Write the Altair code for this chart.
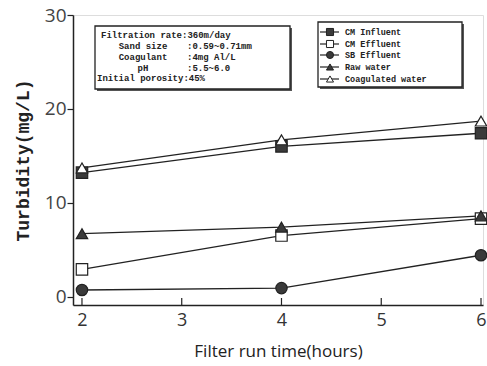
import altair as alt
import pandas as pd

hours = [2, 4, 6]
x_ticks = [2, 3, 4, 5, 6]
series_names = ["CM Influent", "CM Effluent", "SB Effluent", "Raw water", "Coagulated water"]
cm_influent = [13.2, 16.0, 17.4]
cm_effluent = [2.9, 6.5, 8.3]
sb_effluent = [0.7, 0.9, 4.4]
raw_water = [6.7, 7.4, 8.6]
coagulated = [13.7, 16.7, 18.7]
series_values = [cm_influent, cm_effluent, sb_effluent, raw_water, coagulated]
shapes = ["square", "square", "circle", "triangle-up", "triangle-up"]
fills = ["#3a3a3a", "white", "#3a3a3a", "#3a3a3a", "white"]

info_labels = ["Filtration rate:360m/day", "Sand size", "Coagulant", "pH", "Initial porosity:45%"]
info_values = ["", ":0.59~0.71mm", ":4mg Al/L", ":5.5~6.0", ""]

rows = []
for name, vals in zip(series_names, series_values):
    for h, v in zip(hours, vals):
        rows.append({"series": name, "hours": h, "turb": v})
df = pd.DataFrame(rows)
one = pd.DataFrame({"a": [0]})

INK = "#222"
xscale = alt.Scale(domain=[1.91, 6.02], nice=False, zero=False)
yscale = alt.Scale(domain=[-0.9, 30], nice=False, zero=False)

x = alt.X("hours:Q", scale=xscale,
          axis=alt.Axis(values=x_ticks, format="d", title="Filter run time(hours)", grid=False,
                        tickSize=0, labelFontSize=18, labelFont="Open Sans",
                        labelColor="#333", titleFont="Open Sans", titleFontSize=17,
                        titleFontWeight="normal", titleColor=INK, titlePadding=14,
                        domainColor=INK, labelPadding=6, domainWidth=1.5))
y = alt.Y("turb:Q", scale=yscale,
          axis=alt.Axis(values=[0, 10, 20, 30], format="d", title="Turbidity(mg/L)", grid=False,
                        labelFontSize=19, labelFont="Open Sans", labelColor="#444",
                        titleFont="Liberation Mono", titleFontWeight="bold", titleFontSize=18,
                        titleColor=INK, titlePadding=12, domainColor=INK, tickColor=INK,
                        tickSize=6, labelPadding=1, tickWidth=1.2, domainWidth=1.5))

base = alt.Chart(df)
lines = base.mark_line(color=INK, strokeWidth=1.3).encode(x=x, y=y, detail="series:N")
points = base.mark_point(filled=True, stroke=INK, strokeWidth=1.2, size=130, opacity=1).encode(
    x=x, y=y,
    shape=alt.Shape("series:N", scale=alt.Scale(domain=series_names, range=shapes), legend=None),
    fill=alt.Fill("series:N", scale=alt.Scale(domain=series_names, range=fills), legend=None),
)

# inward x ticks
tick_df = pd.DataFrame({"hours": x_ticks})
xticks = alt.Chart(tick_df).mark_rule(color=INK, strokeWidth=1.2).encode(
    x=x, y=alt.value(290), y2=alt.value(283))

layers = [lines, points, xticks]

# info box
layers.append(alt.Chart(one).mark_rect(fill="#555").encode(
    x=alt.value(24), x2=alt.value(219), y=alt.value(13), y2=alt.value(76)))
layers.append(alt.Chart(one).mark_rect(fill="white", stroke=INK, strokeWidth=1.3).encode(
    x=alt.value(22), x2=alt.value(217), y=alt.value(11), y2=alt.value(74)))

row_y = [20, 31, 42, 53, 63]
label_x = [28, 70, 70, 70, 24]
label_align = ["left", "center", "center", "center", "left"]
for i, (lab, val) in enumerate(zip(info_labels, info_values)):
    layers.append(alt.Chart(pd.DataFrame({"t": [lab]})).mark_text(
        font="Liberation Mono", fontWeight="bold", fontSize=9, align=label_align[i],
        baseline="middle", color=INK).encode(text="t:N", x=alt.value(label_x[i]), y=alt.value(row_y[i])))
    if val:
        layers.append(alt.Chart(pd.DataFrame({"t": [val]})).mark_text(
            font="Liberation Mono", fontWeight="bold", fontSize=9, align="left",
            baseline="middle", color=INK).encode(text="t:N", x=alt.value(114), y=alt.value(row_y[i])))

# legend box
layers.append(alt.Chart(one).mark_rect(fill="#555").encode(
    x=alt.value(247), x2=alt.value(391), y=alt.value(9), y2=alt.value(74)))
layers.append(alt.Chart(one).mark_rect(fill="white", stroke=INK, strokeWidth=1.3).encode(
    x=alt.value(245), x2=alt.value(389), y=alt.value(7), y2=alt.value(72)))

leg_y = [17, 29, 40, 52, 64]
for i, name in enumerate(series_names):
    layers.append(alt.Chart(one).mark_rule(color=INK, strokeWidth=1.2).encode(
        x=alt.value(247), x2=alt.value(266), y=alt.value(leg_y[i])))
    layers.append(alt.Chart(one).mark_point(filled=True, stroke=INK, strokeWidth=1, size=50,
                                            opacity=1, shape=shapes[i], fill=fills[i]).encode(
        x=alt.value(257), y=alt.value(leg_y[i])))
    layers.append(alt.Chart(pd.DataFrame({"t": [name]})).mark_text(
        font="Liberation Mono", fontWeight="bold", fontSize=8.5, align="left",
        baseline="middle", color=INK).encode(text="t:N", x=alt.value(272), y=alt.value(leg_y[i])))

chart = alt.layer(*layers).properties(
    width=410, height=290, autosize="none",
    padding={"left": 73, "top": 15, "right": 4, "bottom": 61},
).configure_view(stroke=INK, strokeWidth=1.5).configure(background="white")

chart.save("out.html", embed_options={"renderer": "svg", "actions": False})
